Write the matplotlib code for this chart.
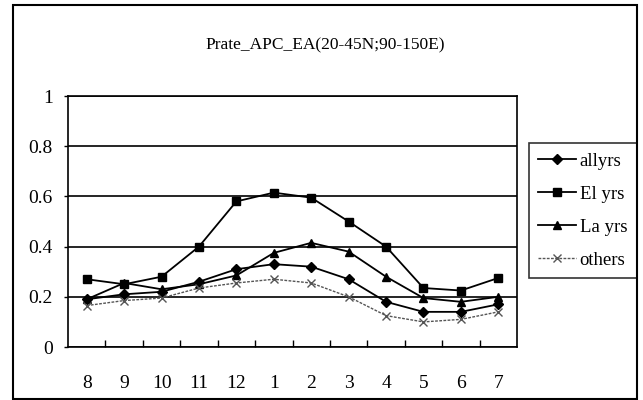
import matplotlib
matplotlib.use("Agg")
import matplotlib.pyplot as plt
from matplotlib.patches import Rectangle
from matplotlib.ticker import FixedLocator

plt.rcParams['font.family'] = ['Liberation Serif', 'DejaVu Serif']

# months (Aug -> Jul)
months = ["8", "9", "10", "11", "12", "1", "2", "3", "4", "5", "6", "7"]

allyrs = [0.19, 0.21, 0.22, 0.26, 0.31, 0.33, 0.32, 0.27, 0.18, 0.14, 0.14, 0.17]
el_yrs = [0.27, 0.25, 0.28, 0.40, 0.58, 0.615, 0.595, 0.50, 0.40, 0.235, 0.225, 0.275]
la_yrs = [0.19, 0.255, 0.23, 0.25, 0.285, 0.375, 0.415, 0.38, 0.28, 0.195, 0.18, 0.20]
others = [0.165, 0.185, 0.195, 0.235, 0.255, 0.27, 0.255, 0.20, 0.125, 0.10, 0.11, 0.14]

fig = plt.figure(figsize=(6.43, 4.0), dpi=100)
ax = fig.add_axes([68 / 643, 1 - 347 / 400, (517 - 68) / 643, (347 - 96) / 400])

x = list(range(len(months)))
ax.plot(x, allyrs, color='black', lw=1.3, marker='D', ms=5, label='allyrs')
ax.plot(x, el_yrs, color='black', lw=1.3, marker='s', ms=5.5, label='El yrs')
ax.plot(x, la_yrs, color='black', lw=1.3, marker='^', ms=6, label='La yrs')
ax.plot(x, others, color='#555555', lw=1.0, ls=(0, (2, 1)), marker='x', ms=6,
        mec='#555555', label='others')

ax.set_xlim(-0.5, len(months) - 0.5)
ax.set_ylim(0, 1)
ax.set_xticks(x)
ax.set_xticklabels(months, fontsize=14)
ax.xaxis.set_minor_locator(FixedLocator([i + 0.5 for i in range(len(months) - 1)]))
ax.tick_params(axis='x', which='major', length=0, pad=20)
ax.tick_params(axis='x', which='minor', direction='in', length=5, width=1)
ax.set_yticks([0, 0.2, 0.4, 0.6, 0.8, 1])
ax.set_yticklabels(["0", "0.2", "0.4", "0.6", "0.8", "1"], fontsize=14)
ax.tick_params(axis='y', length=3, width=1, pad=8)

ax.grid(axis='y', color='black', lw=1.2)
ax.set_axisbelow(True)
for s in ax.spines.values():
    s.set_linewidth(1.2)
ax.spines['top'].set_linestyle((0, (3, 1)))

fig.text(0.505, 1 - 45 / 400, "Prate_APC_EA(20-45N;90-150E)", ha='center',
         va='center', fontsize=12.5)

leg = ax.legend(loc='upper left', bbox_to_anchor=(529 / 643, 1 - 143 / 400),
                bbox_transform=fig.transFigure, fontsize=13.5, frameon=True,
                fancybox=False, edgecolor='black', handlelength=2.0,
                handletextpad=0.2, borderpad=0.5, labelspacing=0.85,
                borderaxespad=0)
leg.get_frame().set_linewidth(1.2)

fig.patches.append(Rectangle((13 / 643, 1 / 400), 624 / 643, 394 / 400,
                             transform=fig.transFigure, fill=False,
                             edgecolor='black', lw=1.5))

fig.savefig("out.png", dpi=100)
